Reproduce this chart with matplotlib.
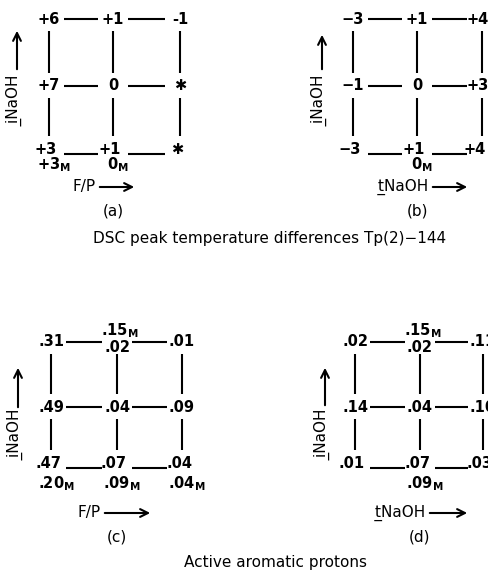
import matplotlib
matplotlib.use("Agg")
import matplotlib.pyplot as plt

# Grid values (rows: top, middle, bottom; columns: left, centre, right)
dsc_fp = [["+6", "+1", "-1"], ["+7", "0", "\u2731"], ["+3", "+1", "\u2731"]]
dsc_fp_top_m = ["", "", ""]
dsc_fp_bot_m = [r"+3$_\mathbf{M}$", r"0$_\mathbf{M}$", ""]

dsc_t = [["\u22123", "+1", "+4"], ["\u22121", "0", "+3"], ["\u22123", "+1", "+4"]]
dsc_t_top_m = ["", "", ""]
dsc_t_bot_m = ["", r"0$_\mathbf{M}$", ""]

aro_fp = [[".31", ".02", ".01"], [".49", ".04", ".09"], [".47", ".07", ".04"]]
aro_fp_top_m = ["", r".15$_\mathbf{M}$", ""]
aro_fp_bot_m = [r".20$_\mathbf{M}$", r".09$_\mathbf{M}$", r".04$_\mathbf{M}$"]

aro_t = [[".02", ".02", ".11"], [".14", ".04", ".10"], [".01", ".07", ".03"]]
aro_t_top_m = ["", r".15$_\mathbf{M}$", ""]
aro_t_bot_m = ["", r".09$_\mathbf{M}$", ""]

x_axis_labels = ["F/P", "t\u0332NaOH", "F/P", "t\u0332NaOH"]
y_axis_label = "i\u0332NaOH"
panel_tags = ["(a)", "(b)", "(c)", "(d)"]
titles = ["DSC peak temperature differences Tp(2)\u2212144", "Active aromatic protons"]

# layout in pixels: node centres, arrows, offsets below the bottom row
panels = [
    dict(cols=(49, 113, 180), rows=(19, 86, 149), vx=17, varr=(28, 72), vlab=102,
         sub=16, hx=(97, 137), hy=38, tag=62, shift=0,
         data=dsc_fp, top=dsc_fp_top_m, bot=dsc_fp_bot_m),
    dict(cols=(353, 417, 482), rows=(19, 86, 149), vx=322, varr=(32, 72), vlab=102,
         sub=16, hx=(430, 470), hy=38, tag=62, shift=-4,
         data=dsc_t, top=dsc_t_top_m, bot=dsc_t_bot_m),
    dict(cols=(51, 117, 182), rows=(342, 407, 463), vx=18, varr=(365, 410), vlab=436,
         sub=21, hx=(102, 153), hy=50, tag=74, shift=0,
         data=aro_fp, top=aro_fp_top_m, bot=aro_fp_bot_m),
    dict(cols=(355, 420, 483), rows=(342, 407, 463), vx=325, varr=(365, 408), vlab=436,
         sub=21, hx=(427, 470), hy=50, tag=74, shift=0,
         data=aro_t, top=aro_t_top_m, bot=aro_t_bot_m),
]

fig = plt.figure(figsize=(4.89, 5.83), dpi=100)
ax = fig.add_axes([0, 0, 1, 1])
ax.set_xlim(0, 489)
ax.set_ylim(583, 0)
ax.axis("off")

fs = 11
lw = 1.5
gap = 15
txt = dict(fontsize=fs, ha="center", va="center", color="black")
node = dict(txt, fontsize=10.5, fontweight="bold")
arrow = dict(arrowstyle="->", lw=lw, color="black", mutation_scale=14)

for k, p in enumerate(panels):
    cols, rows = p["cols"], p["rows"]
    # horizontal connectors (bottom row sits on the baseline)
    for j, y in enumerate(rows):
        yy = y + 5 if j == 2 else y
        for i in range(2):
            ax.plot([cols[i] + gap, cols[i + 1] - gap], [yy, yy], color="black", lw=lw,
                    solid_capstyle="butt")
    # vertical connectors
    for i, x in enumerate(cols):
        for j in range(2):
            ax.plot([x, x], [rows[j] + 12, rows[j + 1] - 13], color="black", lw=lw,
                    solid_capstyle="butt")
    # node labels
    for j, y in enumerate(rows):
        for i, x in enumerate(cols):
            dx = p["shift"] if i == 2 else 0
            dy = 0
            if j == 0 and p["top"][i]:
                dy = 6
                ax.text(x + 3, y - 11, p["top"][i], **node)
            ax.text(x + dx - (3 if j == 2 else 0), y + dy, p["data"][j][i], **node)
    for i, x in enumerate(cols):
        if p["bot"][i]:
            ax.text(x + 5, rows[2] + p["sub"], p["bot"][i], **node)

    # vertical axis arrow with label
    ax.annotate("", xy=(p["vx"], p["varr"][0]), xytext=(p["vx"], p["varr"][1]), arrowprops=arrow)
    ax.text(p["vx"], p["vlab"], y_axis_label, rotation=90, **txt)

    # horizontal axis arrow with label
    hy = rows[2] + p["hy"]
    ax.text(p["hx"][0] - 1, hy, x_axis_labels[k], fontsize=fs, ha="right", va="center")
    ax.annotate("", xy=(p["hx"][1], hy), xytext=(p["hx"][0], hy), arrowprops=arrow)
    ax.text(cols[1], rows[2] + p["tag"], panel_tags[k], **txt)

ax.text(270, 238, titles[0], **txt)
ax.text(276, 562, titles[1], **txt)

fig.savefig("out.png", dpi=100)
